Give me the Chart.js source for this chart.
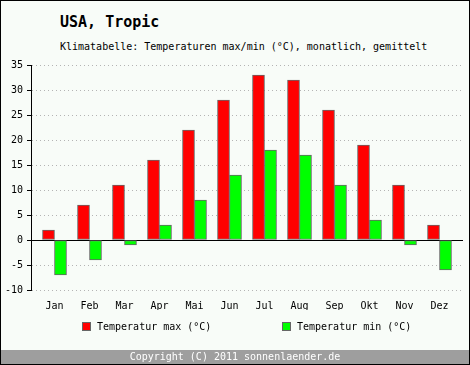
<!DOCTYPE html>
<html lang="de">
<head>
    <meta charset="UTF-8">
    <title>USA, Tropic</title>
    <script src="https://cdn.jsdelivr.net/npm/chart.js"></script>
    <style>
        body { margin: 0; }
        #wrap { position: relative; width: 470px; height: 365px; background: #f8fcf8; overflow: hidden;
                font-family: 'DejaVu Sans Mono', monospace; color: #000; }
        #frame { position: absolute; left: 0; top: 0; width: 470px; height: 365px; box-sizing: border-box;
                 border: 1px solid #000; pointer-events: none; }
        #title { position: absolute; left: 60px; top: 15px; font-size: 15px; line-height: 15px; font-weight: bold; }
        #subtitle { position: absolute; left: 60px; top: 42px; font-size: 10px; line-height: 10px; }
        #chartBox { position: absolute; left: 0; top: 0; width: 470px; height: 345px; }
        #legend { position: absolute; left: 0; top: 321px; width: 470px; height: 12px; font-size: 10px; }
        .item { position: absolute; top: 0; line-height: 11px; white-space: pre; }
        .item span { position: absolute; left: 0; top: 1px; width: 7px; height: 7px; border: 1px solid #666; }
        .item b { font-weight: normal; position: absolute; left: 15px; top: 0; }
        #footer { position: absolute; left: 0; top: 350px; width: 470px; height: 14px; background: #9e9e9e;
                  color: #fff; font-size: 10px; line-height: 14px; text-align: center; }
    </style>
</head>
<body>
<div id="wrap">
    <div id="title">USA, Tropic</div>
    <div id="subtitle">Klimatabelle: Temperaturen max/min (°C), monatlich, gemittelt</div>
    <div id="chartBox"><canvas id="myChart"></canvas></div>
    <div id="legend"></div>
    <div id="footer">Copyright (C) 2011 sonnenlaender.de</div>
    <div id="frame"></div>
</div>
<script>
    const months = ['Jan', 'Feb', 'Mar', 'Apr', 'Mai', 'Jun', 'Jul', 'Aug', 'Sep', 'Okt', 'Nov', 'Dez'];
    const tempMax = [2, 7, 11, 16, 22, 28, 33, 32, 26, 19, 11, 3];
    const tempMin = [-7, -4, -1, 3, 8, 13, 18, 17, 11, 4, -1, -6];
    const seriesNames = ['Temperatur max (°C)', 'Temperatur min (°C)'];
    const seriesColors = ['#ff0000', '#00ff00'];

    Chart.defaults.font.family = "'DejaVu Sans Mono', monospace";
    Chart.defaults.font.size = 10;
    Chart.defaults.color = '#000';

    const toPoints = arr => arr.map((v, i) => ({ x: i, y: v }));

    const ctx = document.getElementById('myChart').getContext('2d');
    const myChart = new Chart(ctx, {
        type: 'bar',
        data: {
            datasets: [
                { label: seriesNames[0], data: toPoints(tempMax), backgroundColor: seriesColors[0] },
                { label: seriesNames[1], data: toPoints(tempMin), backgroundColor: seriesColors[1] }
            ]
        },
        options: {
            responsive: true,
            maintainAspectRatio: false,
            animation: false,
            layout: { padding: { top: 65, right: 7, bottom: 35, left: 0 } },
            datasets: {
                bar: { barThickness: 12, borderWidth: 1, borderColor: '#666', borderSkipped: false }
            },
            plugins: {
                legend: { display: false },
                tooltip: { enabled: false }
            },
            scales: {
                x: {
                    type: 'linear',
                    offset: false,
                    min: -0.6714,
                    max: 11.6714,
                    grid: { display: false },
                    border: { display: false },
                    afterBuildTicks: s => { s.ticks = months.map((m, i) => ({ value: i })); },
                    afterFit: s => { s.height = 20; },
                    ticks: {
                        autoSkip: false,
                        maxRotation: 0,
                        padding: 2,
                        callback: v => months[v]
                    }
                },
                y: {
                    min: -10,
                    max: 35,
                    afterFit: s => { s.width = 31; },
                    ticks: { stepSize: 5, padding: 4 },
                    grid: {
                        color: c => c.tick && c.tick.value === 0 ? '#000' : '#b4b4b4',
                        tickColor: '#000',
                        tickLength: 4,
                        tickBorderDash: []
                    },
                    border: {
                        display: true,
                        color: '#000',
                        dash: c => (c.tick && c.tick.value !== 0) ? [1, 3] : []
                    }
                }
            }
        }
    });

    // legende unten
    const legend = document.getElementById('legend');
    const legendX = [82, 282];
    seriesNames.forEach((name, i) => {
        const div = document.createElement('div');
        div.className = 'item';
        div.style.left = legendX[i] + 'px';
        const box = document.createElement('span');
        box.style.background = seriesColors[i];
        const txt = document.createElement('b');
        txt.textContent = name;
        div.appendChild(box);
        div.appendChild(txt);
        legend.appendChild(div);
    });
</script>
</body>
</html>
